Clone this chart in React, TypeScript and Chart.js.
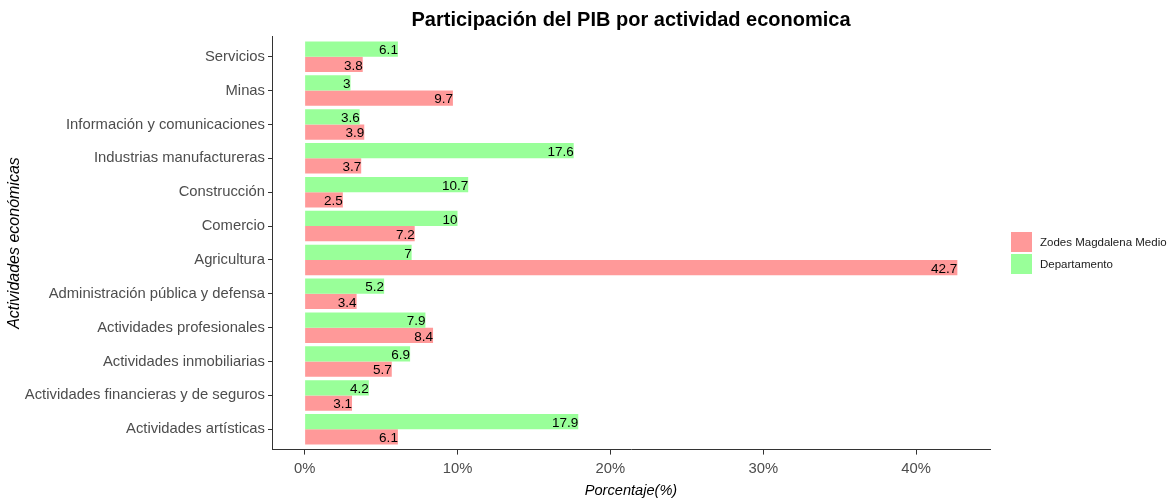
import React, { useEffect, useRef } from "react";
import { Chart, registerables } from "chart.js";

Chart.register(...registerables);

const categories = [
  "Servicios",
  "Minas",
  "Información y comunicaciones",
  "Industrias manufactureras",
  "Construcción",
  "Comercio",
  "Agricultura",
  "Administración pública y defensa",
  "Actividades profesionales",
  "Actividades inmobiliarias",
  "Actividades financieras y de seguros",
  "Actividades artísticas",
];
const departamento = [6.1, 3, 3.6, 17.6, 10.7, 10, 7, 5.2, 7.9, 6.9, 4.2, 17.9];
const zodes = [3.8, 9.7, 3.9, 3.7, 2.5, 7.2, 42.7, 3.4, 8.4, 5.7, 3.1, 6.1];
const xTicks = [0, 10, 20, 30, 40];
const title = "Participación del PIB por actividad economica";
const legendItems = [
  { label: "Zodes Magdalena Medio", color: "#FF9999" },
  { label: "Departamento", color: "#99FF99" },
];

const FONT = "'Liberation Sans', Arial, sans-serif";

const overlayPlugin = {
  id: "overlay",
  afterDatasetsDraw(chart: any) {
    const ctx = chart.ctx;
    ctx.save();
    ctx.font = `13.5px ${FONT}`;
    ctx.fillStyle = "#000";
    ctx.textAlign = "right";
    ctx.textBaseline = "middle";
    chart.data.datasets.forEach((ds: any, di: number) => {
      const meta = chart.getDatasetMeta(di);
      meta.data.forEach((el: any, i: number) => {
        ctx.fillText(String(ds.data[i].x), el.x, el.y + 1.5);
      });
    });
    ctx.restore();
  },
  afterDraw(chart: any) {
    const ctx = chart.ctx;
    const area = chart.chartArea;
    ctx.save();
    ctx.font = `bold 20px ${FONT}`;
    ctx.fillStyle = "#000";
    ctx.textAlign = "center";
    ctx.textBaseline = "middle";
    ctx.fillText(title, (area.left + area.right) / 2, 20);
    ctx.font = `11.5px ${FONT}`;
    ctx.textAlign = "left";
    legendItems.forEach((it, i) => {
      const y = 232 + i * 22;
      ctx.fillStyle = it.color;
      ctx.fillRect(1011, y, 21, 20);
      ctx.fillStyle = "#1a1a1a";
      ctx.fillText(it.label, 1040, y + 10.5);
    });
    ctx.restore();
  },
};

export default function App() {
  const ref = useRef<HTMLCanvasElement>(null);
  useEffect(() => {
    if (!ref.current) return;
    const chart = new Chart(ref.current, {
      type: "bar",
      data: {
        datasets: [
          {
            label: "Departamento",
            data: departamento.map((v, i) => ({ x: v, y: i })),
            backgroundColor: "#99FF99",
            categoryPercentage: 0.9,
            barPercentage: 1.0,
          },
          {
            label: "Zodes Magdalena Medio",
            data: zodes.map((v, i) => ({ x: v, y: i })),
            backgroundColor: "#FF9999",
            categoryPercentage: 0.9,
            barPercentage: 1.0,
          },
        ],
      },
      options: {
        indexAxis: "y",
        animation: false,
        responsive: false,
        maintainAspectRatio: false,
        layout: { padding: { left: 0, right: 182, top: 36.4, bottom: 0 } },
        plugins: {
          legend: { display: false },
          title: { display: false },
          tooltip: { enabled: false },
        },
        scales: {
          x: {
            type: "linear",
            min: -2.135,
            max: 44.835,
            afterBuildTicks: (scale: any) => {
              scale.ticks = xTicks.map((v) => ({ value: v }));
            },
            afterFit: (scale: any) => {
              scale.height = 50.4;
            },
            ticks: {
              callback: (v: any) => `${v}%`,
              color: "#4d4d4d",
              font: { family: FONT, size: 14.8 },
              padding: 5,
              maxRotation: 0,
              autoSkip: false,
            },
            grid: {
              drawOnChartArea: false,
              drawTicks: true,
              tickLength: 5,
              color: "#333",
            },
            border: { display: true, color: "#333", width: 1 },
            title: {
              display: true,
              text: "Porcentaje(%)",
              color: "#000",
              font: { family: FONT, size: 14.6, style: "italic" },
              padding: { top: 0, bottom: 0 },
            },
          },
          y: {
            type: "linear",
            reverse: true,
            offset: false,
            min: -0.6,
            max: 11.6,
            afterBuildTicks: (scale: any) => {
              scale.ticks = categories.map((_, i) => ({ value: i }));
            },
            afterFit: (scale: any) => {
              scale.width = 272;
            },
            ticks: {
              callback: (v: any) => categories[v] ?? "",
              color: "#4d4d4d",
              font: { family: FONT, size: 14.8 },
              padding: 3,
              autoSkip: false,
            },
            grid: {
              offset: false,
              drawOnChartArea: false,
              drawTicks: true,
              tickLength: 4,
              color: "#333",
            },
            border: { display: true, color: "#333", width: 1 },
            title: {
              display: true,
              text: "Actividades económicas",
              color: "#000",
              font: { family: FONT, size: 16, style: "italic" },
              padding: { top: 5, bottom: 0 },
            },
          },
        },
      },
      plugins: [overlayPlugin],
    } as any);
    return () => chart.destroy();
  }, []);
  return (
    <div style={{ position: "fixed", left: 0, top: 0, width: 1172, height: 500, background: "#fff" }}>
      <canvas ref={ref} width={1172} height={500} style={{ width: 1172, height: 500 }} />
    </div>
  );
}
